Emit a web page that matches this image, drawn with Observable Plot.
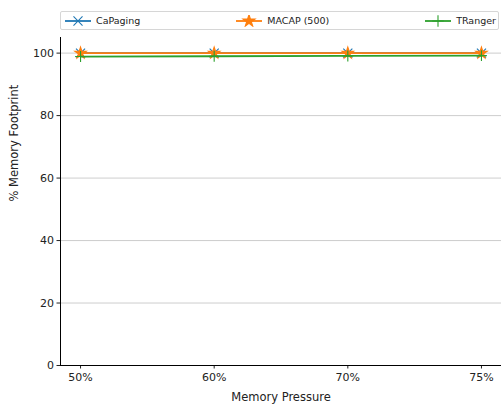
<!DOCTYPE html>
<html>
<head>
<meta charset="utf-8">
<script src="https://cdn.jsdelivr.net/npm/d3@7"></script>
<script src="https://cdn.jsdelivr.net/npm/@observablehq/plot@0.6"></script>
<style>
  body { margin: 0; background: #fff; font-family: "DejaVu Sans", sans-serif; }
  #wrap { position: relative; width: 502px; height: 405px; }
  #legend {
    position: absolute; left: 60px; top: 11px; width: 439px; height: 19px;
    border: 1px solid #d6d6d6; border-radius: 2px; box-sizing: border-box;
    display: flex; justify-content: space-between; align-items: center;
    padding: 0 2px 0 3px; font-size: 9.5px; color: #222; background: #fff; z-index: 2;
  }
  .item { display: flex; align-items: center; gap: 4px; }
  #chart { position: absolute; left: 0; top: 0; }
</style>
</head>
<body>
<div id="wrap">
  <div id="legend"></div>
  <div id="chart"></div>
</div>
<script>
// Memory pressure levels on the x axis
const pressures = ["50%", "60%", "70%", "75%"];
// Memory footprint (%) per system
const caPaging = [100, 100, 100, 100];
const macap500 = [100, 100, 100, 100];
const tRanger  = [98.9, 99.0, 99.1, 99.2];
const seriesNames = ["CaPaging", "MACAP (500)", "TRanger"];
const seriesColors = ["#1f77b4", "#ff7f0e", "#2ca02c"];
const seriesSymbols = ["times", "star", "plus"];
const seriesRadius = [4.2, 3.6, 3.6];
const yTicks = [0, 20, 40, 60, 80, 100];

const rows = [];
[caPaging, macap500, tRanger].forEach((vals, s) => {
  vals.forEach((v, i) => rows.push({ series: seriesNames[s], idx: i, value: v }));
});

// one line + marker layer per series, drawn in order
const seriesMarks = seriesNames.flatMap((name, s) => {
  const data = rows.filter(d => d.series === name);
  return [
    Plot.line(data, { x: "idx", y: "value", stroke: seriesColors[s], strokeWidth: 1.8 }),
    Plot.dot(data, { x: "idx", y: "value", symbol: seriesSymbols[s], r: seriesRadius[s],
      stroke: seriesColors[s], fill: seriesColors[s], strokeWidth: 1.1 })
  ];
});

const chart = Plot.plot({
  width: 502,
  height: 405,
  marginLeft: 60,
  marginRight: 1,
  marginTop: 37,
  marginBottom: 40,
  style: { fontFamily: "DejaVu Sans, sans-serif", fontSize: "11px", color: "#222", background: "#fff" },
  x: { type: "linear", domain: [-0.15, pressures.length - 1 + 0.15] },
  y: { domain: [0, 105] },
  marks: [
    Plot.gridY(yTicks, { stroke: "#b0b0b0", strokeOpacity: 0.8, strokeWidth: 0.8 }),
    Plot.axisY({ ticks: yTicks, tickSize: 3.5, tickPadding: 3, label: null, fontSize: 11 }),
    Plot.axisX({ ticks: d3.range(pressures.length), tickFormat: i => pressures[i], tickSize: 3.5, tickPadding: 4, label: null, fontSize: 11 }),
    Plot.ruleX([-0.15], { stroke: "#000", strokeWidth: 1 }),
    Plot.ruleY([0], { stroke: "#000", strokeWidth: 1 }),
    ...seriesMarks,
    Plot.text(["Memory Pressure"], { frameAnchor: "bottom", dy: 35, fontSize: 11.5, fill: "#222" }),
    Plot.text(["% Memory Footprint"], { frameAnchor: "left", dx: -46, rotate: -90, fontSize: 11.5, fill: "#222" })
  ]
});
document.getElementById("chart").appendChild(chart);

// Legend entries: line sample with the series marker
const legend = d3.select("#legend");
seriesNames.forEach((name, s) => {
  const item = legend.append("div").attr("class", "item");
  const svg = item.append("svg").attr("width", 28).attr("height", 12);
  svg.append("line").attr("x1", 1).attr("x2", 27).attr("y1", 6).attr("y2", 6)
    .attr("stroke", seriesColors[s]).attr("stroke-width", 1.8);
  const sym = { times: d3.symbolTimes, star: d3.symbolStar, plus: d3.symbolPlus }[seriesSymbols[s]];
  const area = [55, 45, 45][s];
  svg.append("path").attr("d", d3.symbol(sym, area)()).attr("transform", "translate(14,6)")
    .attr("fill", seriesColors[s]).attr("stroke", seriesColors[s]).attr("stroke-width", 1.1);
  item.append("span").text(name);
});
</script>
</body>
</html>
